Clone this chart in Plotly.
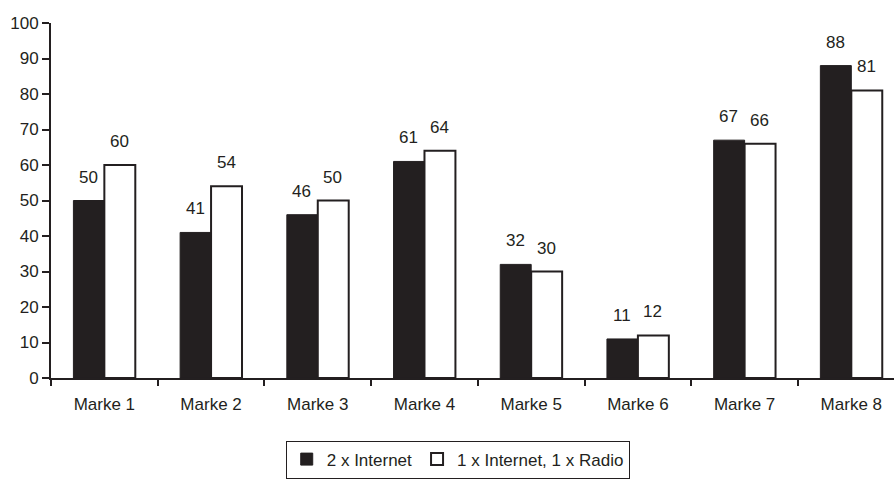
import plotly.graph_objects as go

marken = ["Marke 1", "Marke 2", "Marke 3", "Marke 4", "Marke 5", "Marke 6", "Marke 7", "Marke 8"]
internet_2x = [50, 41, 46, 61, 32, 11, 67, 88]
internet_radio = [60, 54, 50, 64, 30, 12, 66, 81]
y_ticks = [0, 10, 20, 30, 40, 50, 60, 70, 80, 90, 100]

FONT = "Liberation Sans, Arial, sans-serif"
INK = "#231f20"
FS = 17

fig = go.Figure()
fig.add_trace(go.Bar(
    x=marken, y=internet_2x, name="2 x Internet",
    marker=dict(color=INK, line=dict(color=INK, width=1)),
))
fig.add_trace(go.Bar(
    x=marken, y=internet_radio, name="1 x Internet, 1 x Radio",
    marker=dict(color="white", line=dict(color=INK, width=2)),
))

# value labels sit a little higher above each bar than the default outside text
for series, dx in ((internet_2x, -16), (internet_radio, 15)):
    for m, v in zip(marken, series):
        fig.add_annotation(
            x=m, y=v, text=str(v), showarrow=False,
            xshift=dx, yshift=12, yanchor="bottom",
            font=dict(family=FONT, size=FS, color=INK),
        )

fig.update_layout(
    width=894, height=480,
    margin=dict(l=51, r=0, t=23, b=102),
    paper_bgcolor="white", plot_bgcolor="white",
    barmode="group", bargap=0.42, bargroupgap=0,
    font=dict(family=FONT, size=FS, color=INK),
    showlegend=True,
    legend=dict(
        orientation="h", xref="container", x=0.512, xanchor="center",
        yref="container", y=0.003, yanchor="bottom",
        bordercolor=INK, borderwidth=1, bgcolor="white",
        font=dict(family=FONT, size=FS, color=INK),
        itemwidth=30, tracegroupgap=0,
    ),
    xaxis=dict(
        type="category", range=[-0.5, 7.4],
        showline=True, linecolor=INK, linewidth=2,
        ticks="outside", tickson="boundaries", ticklen=6, tickwidth=2, tickcolor=INK,
        showgrid=False, zeroline=False, ticklabelstandoff=10,
        tickfont=dict(family=FONT, size=FS, color=INK),
    ),
    yaxis=dict(
        range=[0, 100], tickvals=y_ticks,
        showline=True, linecolor=INK, linewidth=2,
        ticks="outside", ticklen=7, tickwidth=2, tickcolor=INK,
        showgrid=False, zeroline=False,
        tickfont=dict(family=FONT, size=FS, color=INK),
    ),
)

fig.write_html("out.html")
